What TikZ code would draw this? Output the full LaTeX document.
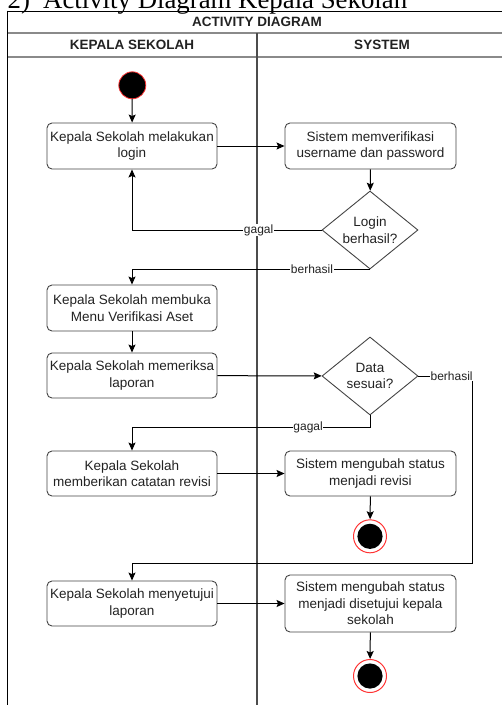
\documentclass[tikz,border=0pt]{standalone}
\usepackage{fontspec}
\setmainfont{Liberation Sans}
\newfontfamily\titlefont{Liberation Serif}
\usetikzlibrary{shapes.geometric,arrows.meta}
\definecolor{frameg}{HTML}{8A8A8A}
\definecolor{boxg}{HTML}{444444}
\definecolor{txtg}{HTML}{222222}
\definecolor{startred}{HTML}{FF3333}
\begin{document}
\begin{tikzpicture}[x=1pt,y=-1pt,
 box/.style={draw=boxg, line width=0.9pt, rounded corners=5pt, minimum width=170pt, minimum height=46pt, inner sep=0pt, align=center, text=txtg, font=\fontsize{13.5}{16.6}\selectfont},
 dia/.style={draw=boxg, line width=0.9pt, diamond, minimum width=96pt, minimum height=78pt, inner sep=0pt},
 dtext/.style={align=center, text=txtg, font=\fontsize{13.5}{16.6}\selectfont, inner sep=0pt},
 flow/.style={draw=black, line width=1pt, -{Stealth[length=8pt,width=7pt,inset=1.5pt]}},
 lbl/.style={fill=white, inner sep=0.6pt, text=txtg, font=\fontsize{12}{14}\selectfont},
 hdr/.style={font=\bfseries\fontsize{13.5}{16}\selectfont, text=txtg, inner sep=0pt},
 startn/.style={circle, fill=black, draw=startred, line width=0.8pt, minimum size=27pt, inner sep=0pt},
 endn/.style={circle, draw=startred, line width=1pt, fill=white, minimum size=33pt, inner sep=0pt, path picture={\fill[black] (path picture bounding box.center) circle (12.6pt);}},
]
\useasboundingbox (0,0) rectangle (502,705);
\clip (0,0) rectangle (502,705);

% title
\node[anchor=base west, inner sep=0pt, font=\titlefont\fontsize{26.8}{30}\selectfont] (t1) at (7.5,8) {2)};
\node[anchor=base west, inner sep=0pt, font=\titlefont\fontsize{26.8}{30}\selectfont] (t2) at (43,8) {Activity Diagram Kepala Sekolah};

% frame
\draw[black, line width=1pt] (8,11) -- (512,11);
\draw[frameg, line width=2pt] (8,33.3) -- (512,33.3);
\draw[frameg, line width=2pt] (8,56.7) -- (512,56.7);
\draw[black!70, line width=1.5pt] (257,33.3) -- (257,712);
\draw[black, line width=1.3pt] (7.5,10.5) -- (7.5,712);
\node[hdr] (h0) at (257,22) {ACTIVITY DIAGRAM};
\node[hdr] (h1) at (132,45) {KEPALA SEKOLAH};
\node[hdr] (h2) at (382,45) {SYSTEM};

% nodes
\node[startn] (s) at (132.3,85.3) {};
\node[box] (b1) at (132,146) {Kepala Sekolah melakukan\\login};
\node[box, minimum width=171pt] (b2) at (370.5,146) {Sistem memverifikasi\\username dan password};
\node[dia] (d1) at (370,230) {};
\node[dtext] (d1t) at (370,230) {Login\\berhasil?};
\node[box] (b3) at (132,308) {Kepala Sekolah membuka\\Menu Verifikasi Aset};
\node[box, minimum height=45pt] (b4) at (132,375.5) {Kepala Sekolah memeriksa\\laporan};
\node[dia] (d2) at (370,376) {};
\node[dtext] (d2t) at (370,376) {Data\\sesuai?};
\node[box, minimum height=45pt] (b5) at (132,473.5) {Kepala Sekolah\\memberikan catatan revisi};
\node[box, minimum height=45pt, minimum width=171pt] (b6) at (370.5,473.5) {Sistem mengubah status\\menjadi revisi};
\node[endn] (e1) at (370,536.3) {};
\node[box, minimum height=45pt] (b7) at (132,603.5) {Kepala Sekolah menyetujui\\laporan};
\node[box, minimum height=57pt, minimum width=171pt] (b8) at (370.5,603.5) {Sistem mengubah status\\menjadi disetujui kepala\\sekolah};
\node[endn] (e2) at (370,676) {};

\coordinate (k0) at (370,427);
\coordinate (k1) at (472,376);
\coordinate (k2) at (472,563);

% edges
\draw[flow] (s) -- (b1);
\draw[flow] (b1) -- (b2);
\draw[flow] (b2) -- (d1);
\draw[flow] (d1.west) -| node[lbl, pos=0.166] {gagal} (b1.south);
\draw[flow] (d1.south) -| node[lbl, pos=0.122] {berhasil} (b3.north);
\draw[flow] (b3) -- (b4);
\draw[flow] (b4) -- (d2);
\draw[flow] (d2.east) -- node[lbl, pos=0.62] {berhasil} (k1) -- (k2) -| (b7.north);
\draw[flow] (d2.south) -- (k0) -| node[lbl, pos=0.13] {gagal} (b5.north);
\draw[flow] (b5) -- (b6);
\draw[flow] (b6) -- (e1);
\draw[flow] (b7) -- (b8);
\draw[flow] (b8) -- (e2);
\end{tikzpicture}
\end{document}
